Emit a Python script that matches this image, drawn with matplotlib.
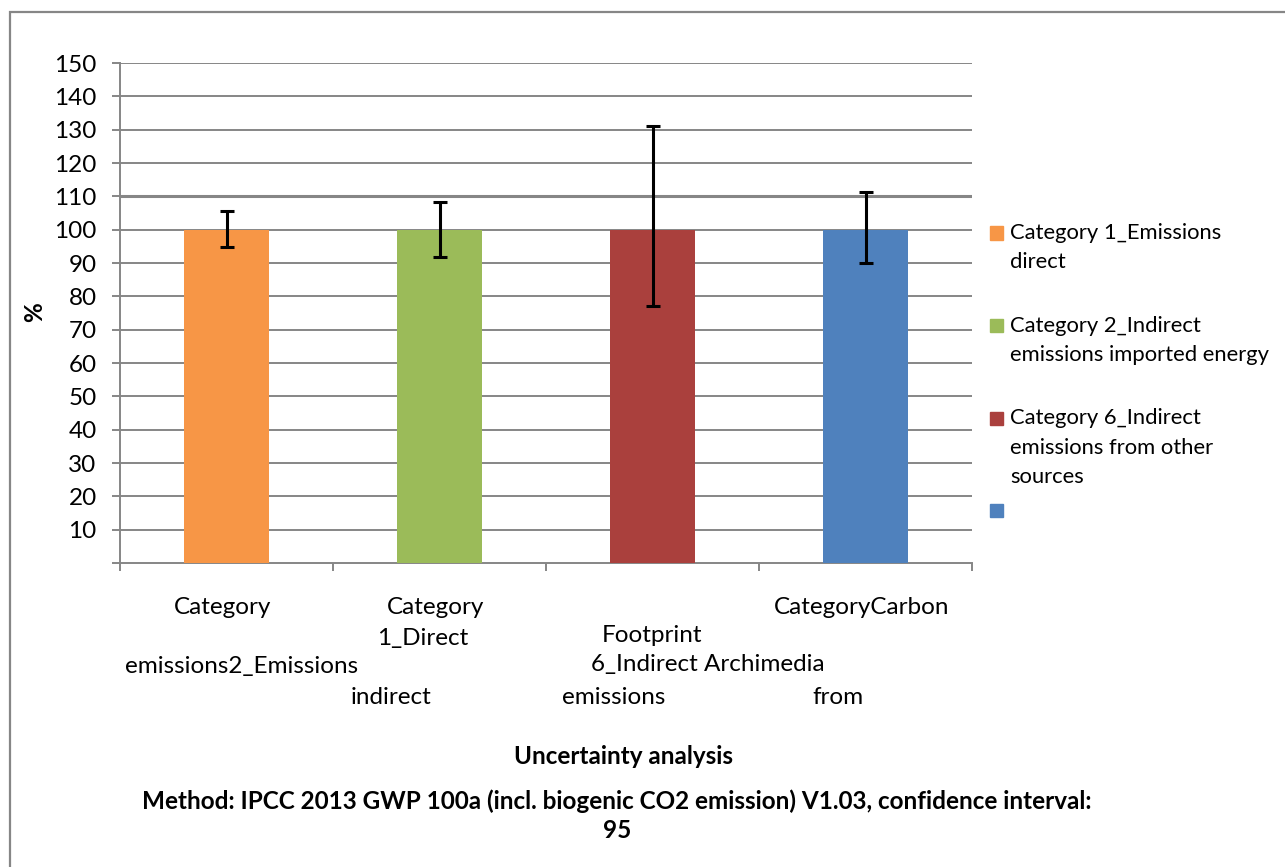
import matplotlib.pyplot as plt
from matplotlib.patches import Rectangle
from matplotlib.transforms import blended_transform_factory

plt.rcParams['font.family'] = ['Lato', 'DejaVu Sans']

# Datos del grafico
values = [100, 100, 100, 100]
err_low = [94.7, 91.9, 77.2, 90.1]
err_high = [105.7, 108.2, 131.2, 111.3]
colors = ['#F79646', '#9BBB59', '#AA403D', '#4F81BD']
legend_labels = ['Category 1_Emissions\ndirect',
                 'Category 2_Indirect\nemissions imported energy',
                 'Category 6_Indirect\nemissions from other\nsources',
                 '']
yticks = list(range(0, 151, 10))
ytick_labels = [''] + [str(v) for v in range(10, 151, 10)]

# etiquetas del eje x tal como Excel las dibujo (solapadas)
xlabel_parts = ['Category', 'emissions2_Emissions', 'Category', '1_Direct', 'indirect',
                'Footprint', '6_Indirect Archimedia', 'emissions', 'CategoryCarbon', 'from']
part_x = [-0.02, 0.07, 0.98, 0.92, 0.77, 2.00, 2.26, 1.82, 2.98, 2.87]
part_y = [-0.088, -0.208, -0.088, -0.152, -0.268, -0.144, -0.204, -0.268, -0.088, -0.268]

W, H = 1285, 867
fs_ax = 17.5
fs_leg = 15.8
fs_bold = 17.5

fig = plt.figure(figsize=(W / 100, H / 100), dpi=100)
ax = fig.add_axes([120 / W, 1 - 563 / H, 852 / W, 500 / H])

grid_c = '#868686'
x = list(range(len(values)))
ax.bar(x, values, width=0.4, color=colors, zorder=3)
yerr = [[v - lo for v, lo in zip(values, err_low)], [hi - v for v, hi in zip(values, err_high)]]
ax.errorbar(x, values, yerr=yerr, fmt='none', ecolor='black', elinewidth=2.2,
            capsize=4.7, capthick=2.2, zorder=4)

ax.set_xlim(-0.5, 3.5)
ax.set_ylim(0, 150)
ax.set_yticks(yticks)
ax.set_yticklabels(ytick_labels, fontsize=fs_ax)
ax.set_xticks([-0.5, 0.5, 1.5, 2.5, 3.5])
ax.set_xticklabels([])
for v in yticks[1:]:
    ax.axhline(v, color=grid_c, lw=2.2 if v == 110 else 1.4, zorder=1)
for s in ['top', 'right']:
    ax.spines[s].set_visible(False)
for s in ['left', 'bottom']:
    ax.spines[s].set_color(grid_c)
    ax.spines[s].set_linewidth(1.4)
ax.tick_params(axis='both', direction='out', length=5.8, width=1.4, color=grid_c, pad=11)

tr = blended_transform_factory(ax.transData, ax.transAxes)
for t, px, py in zip(xlabel_parts, part_x, part_y):
    ax.text(px, py, t, transform=tr, ha='center', va='center', fontsize=fs_ax, clip_on=False)

# leyenda
for i, (lab, c) in enumerate(zip(legend_labels, colors)):
    y0 = 233 + i * 92.5
    fig.patches.append(Rectangle((990 / W, 1 - (y0 + 6.5) / H), 13 / W, 13 / H,
                                 transform=fig.transFigure, color=c))
    for j, line in enumerate(lab.split('\n')):
        fig.text(1010 / W, 1 - (y0 + j * 29.5) / H, line, ha='left', va='center', fontsize=fs_leg)

fig.text(35 / W, 1 - 312 / H, '%', rotation=90, ha='center', va='center',
         fontsize=fs_bold, fontweight='bold')
fig.text(624 / W, 1 - 757 / H, 'Uncertainty analysis', ha='center', va='center',
         fontsize=fs_bold, fontweight='bold')
fig.text(617 / W, 1 - 801 / H,
         'Method: IPCC 2013 GWP 100a (incl. biogenic CO2 emission) V1.03, confidence interval:',
         ha='center', va='center', fontsize=fs_bold, fontweight='bold')
fig.text(617 / W, 1 - 830 / H, '95', ha='center', va='center', fontsize=fs_bold, fontweight='bold')

# marco exterior
fig.patches.append(Rectangle((10 / W, -0.1), 1.2, 1 - 12 / H + 0.1, transform=fig.transFigure,
                             fill=False, edgecolor=grid_c, lw=1.6))

fig.savefig('out.png', dpi=100)
